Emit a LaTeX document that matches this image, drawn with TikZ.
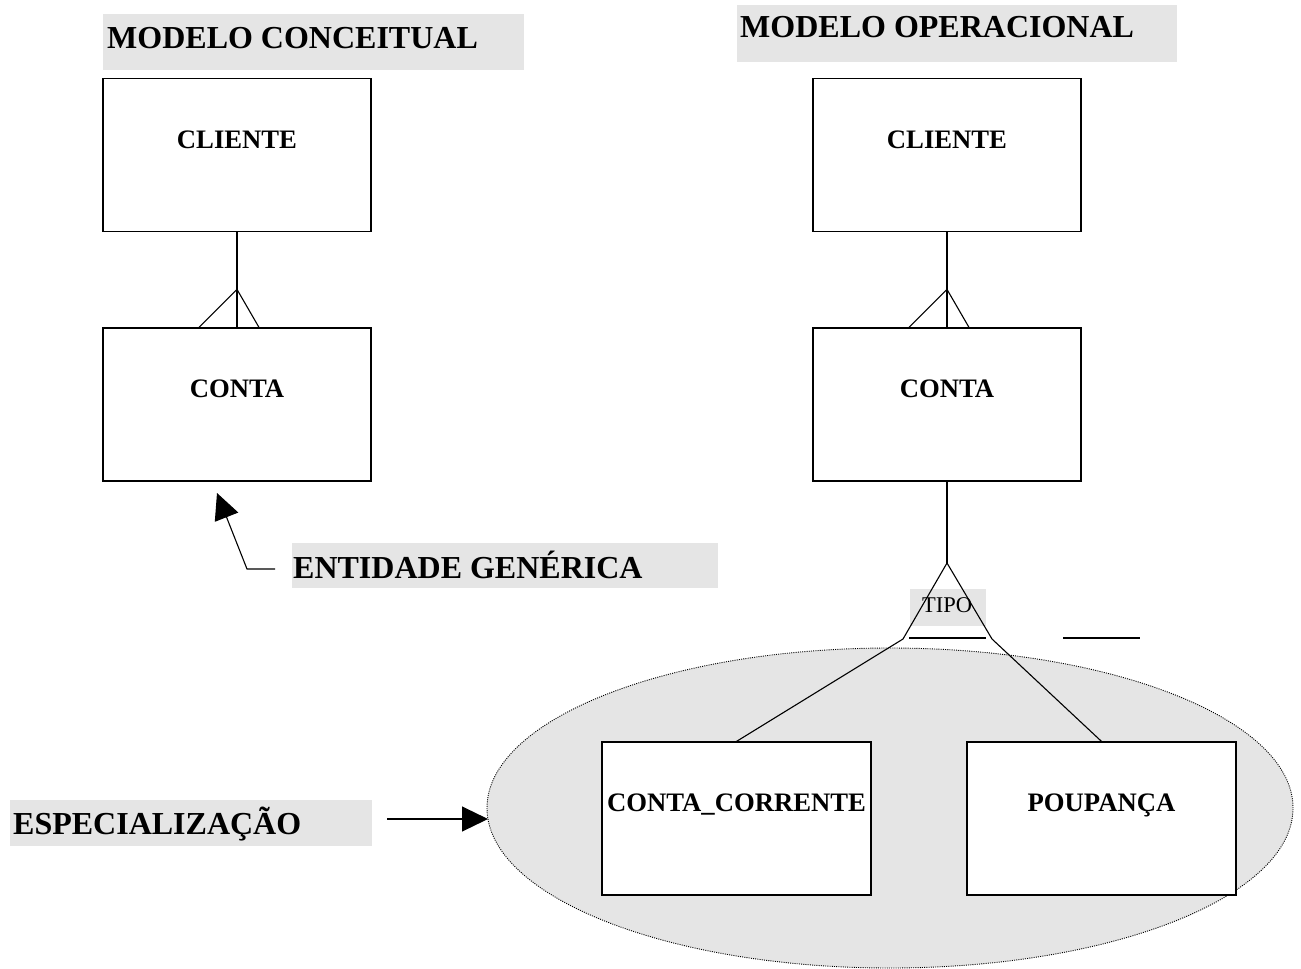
\documentclass[tikz,border=0pt]{standalone}
\usepackage{fontspec}
\setmainfont{Liberation Serif}
\usetikzlibrary{arrows.meta,calc,shapes.geometric}
\definecolor{shade}{RGB}{229,229,229}
\tikzset{
  entity/.style={draw, fill=white, line width=1.2pt, minimum width=268pt, minimum height=153pt, inner sep=0pt},
  entlabel/.style={font=\fontsize{26.67}{32}\selectfont\bfseries, inner sep=0pt,
                   text height=18pt, text depth=0pt, yshift=16pt},
  graybox/.style={fill=shade, inner sep=0pt, anchor=north west},
  heading/.style={font=\fontsize{32}{38}\selectfont\bfseries, inner sep=0pt, anchor=base west},
  link/.style={line width=1.1pt},
  bigarrow/.style={line width=1.1pt, -{Triangle[length=26pt,width=25pt]}}
}
\begin{document}
\begin{tikzpicture}[x=1pt,y=-1pt]
\useasboundingbox (0,0) rectangle (1301,969);

% specialization region
\node[ellipse, fill=shade, draw=black, line width=0.9pt, dash pattern=on 1pt off 1.2pt,
      minimum width=806pt, minimum height=320pt, inner sep=0pt] (spec) at (890,808) {};

% headings with their gray bands
\node[graybox, minimum width=421pt, minimum height=56pt] (h1box) at (103,14) {};
\node[heading] (h1) at (107,48) {MODELO CONCEITUAL};
\node[graybox, minimum width=440pt, minimum height=57pt] (h2box) at (737,5) {};
\node[heading] (h2) at (740,37) {MODELO OPERACIONAL};

% conceptual model
\node[entity, label={[entlabel]center:CLIENTE}] (cli1) at (237,155) {};
\node[entity, label={[entlabel]center:CONTA}] (con1) at (237,404.5) {};
\draw[link] (cli1.south) -- (con1.north);
\draw[link] ($(con1.north)+(-38,0)$) -- ($(con1.north)+(0,-38)$) -- ($(con1.north)+(22,0)$);

% operational model
\node[entity, label={[entlabel]center:CLIENTE}] (cli2) at (947,155) {};
\node[entity, label={[entlabel]center:CONTA}] (con2) at (947,404.5) {};
\draw[link] (cli2.south) -- (con2.north);
\draw[link] ($(con2.north)+(-38,0)$) -- ($(con2.north)+(0,-38)$) -- ($(con2.north)+(22,0)$);

% subtypes
\node[entity, minimum width=269pt, label={[entlabel]center:CONTA\_CORRENTE}] (cc) at (736.5,818.5) {};
\node[entity, minimum width=269pt, label={[entlabel]center:POUPANÇA}] (pp) at (1101.5,818.5) {};

% discriminator triangle
\coordinate (apex) at (947,563);
\coordinate (footL) at (903,639);
\coordinate (footR) at (992,639);
\coordinate (barL) at (909,638);
\coordinate (barR) at (986,638);
\node[graybox, minimum width=76pt, minimum height=37pt] (tipobox) at (910,589) {};
\node[font=\fontsize{22.5}{27}\selectfont, inner sep=0pt, anchor=base west] (tipo) at (922,612.5) {TIPO};
\draw[link] (con2.south) -- (apex);
\draw[link] (footL) -- (apex) -- (footR);
\draw[link] (barL) -- (barR);
\draw[link] (footL) -- (cc.north);
\draw[link] (footR) -- (pp.north);

\coordinate (dashA) at (1063,638);
\coordinate (dashB) at (1140,638);
\draw[link] (dashA) -- (dashB);

% annotations
\node[graybox, minimum width=426pt, minimum height=45pt] (genbox) at (292,543) {};
\node[heading] (gen) at (293,578) {ENTIDADE GENÉRICA};
\coordinate (genA) at (275,569);
\coordinate (genB) at (247,569);
\coordinate (genTip) at (217,493);
\draw[bigarrow] (genA) -- (genB) -- (genTip);

\node[graybox, minimum width=362pt, minimum height=46pt] (espbox) at (10,800) {};
\node[heading] (esp) at (13,834) {ESPECIALIZAÇÃO};
\coordinate (espA) at (387,819);
\coordinate (espTip) at (488,819);
\draw[bigarrow] (espA) -- (espTip);
\end{tikzpicture}
\end{document}
